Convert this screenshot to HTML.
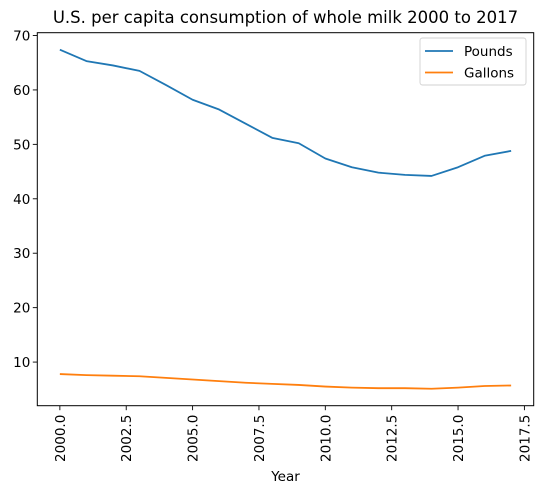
<!DOCTYPE html>
<html><head><meta charset="utf-8"><style>
body{margin:0;background:#fff;}
svg text{font-family:"DejaVu Sans","Liberation Sans",sans-serif;fill:#000;}
</style></head><body>
<svg id="chart" width="543" height="494" viewBox="0 0 543 494"></svg>
<script>
const years=[2000,2001,2002,2003,2004,2005,2006,2007,2008,2009,2010,2011,2012,2013,2014,2015,2016,2017];
const pounds=[67.4,65.3,64.5,63.5,60.9,58.2,56.4,53.8,51.2,50.2,47.4,45.8,44.8,44.4,44.2,45.8,47.9,48.8];
const gallons=[7.8,7.6,7.5,7.4,7.1,6.8,6.5,6.2,6.0,5.8,5.5,5.3,5.2,5.2,5.1,5.3,5.6,5.7];
const xTicks=[2000,2002.5,2005,2007.5,2010,2012.5,2015,2017.5];
const xTickLabels=["2000.0","2002.5","2005.0","2007.5","2010.0","2012.5","2015.0","2017.5"];
const yTicks=[10,20,30,40,50,60,70];

const L=37.3,R=533.7,T=32.7,B=405.7;
const svg=document.getElementById('chart');
const NS='http://www.w3.org/2000/svg';
function mk(tag,attrs,parent){const e=document.createElementNS(NS,tag);for(const k in attrs)e.setAttribute(k,attrs[k]);(parent||svg).appendChild(e);return e;}
const xmin=Math.min(...years),xmax=Math.max(...years),xr=xmax-xmin;
const x0=xmin-0.05*xr,x1=xmax+0.05*xr;
const all=pounds.concat(gallons);
const ymn=Math.min(...all),ymx=Math.max(...all),yr=ymx-ymn;
const y0=ymn-0.05*yr,y1=ymx+0.05*yr;
const sx=v=>L+(v-x0)/(x1-x0)*(R-L);
const sy=v=>B-(v-y0)/(y1-y0)*(B-T);

let t=mk('text',{x:(L+R)/2,y:23,'text-anchor':'middle','font-size':'16.5'});
t.textContent='U.S. per capita consumption of whole milk 2000 to 2017';



xTicks.forEach((v,i)=>{
  const g=mk('g',{});
  
  
  mk('line',{x1:sx(v),x2:sx(v),y1:B,y2:B+4.5,stroke:'#000','stroke-width':0.9},g);
  const tx=mk('text',{x:0,y:0,'font-size':'13.5','text-anchor':'end',transform:`translate(${sx(v)+5},${B+9}) rotate(-90)`},g);
  tx.textContent=xTickLabels[i];
});
yTicks.forEach(v=>{
  const g=mk('g',{});
  
  
  mk('line',{x1:L-4.5,x2:L,y1:sy(v),y2:sy(v),stroke:'#000','stroke-width':0.9},g);
  const tx=mk('text',{x:L-7,y:sy(v)+5,'font-size':'13.5','text-anchor':'end'},g);
  tx.textContent=v;
});
t=mk('text',{x:(L+R)/2,y:481,'text-anchor':'middle','font-size':'13.5'});
t.textContent='Year';



function line(vals,color,name){
  const p=mk('polyline',{points:years.map((y,i)=>sx(y)+','+sy(vals[i])).join(' '),fill:'none',stroke:color,'stroke-width':1.8,'stroke-linejoin':'round'});
  
  
}
line(pounds,'#1f77b4','pounds-line');
line(gallons,'#ff7f0e','gallons-line');

const fr=mk('rect',{x:L,y:T,width:R-L,height:B-T,fill:'none',stroke:'#000','stroke-width':1});



const lg=mk('g',{});


mk('rect',{x:420,y:38,width:106,height:47,rx:2.5,fill:'#fff',stroke:'#d0d0d0','stroke-width':0.9},lg);
[['Pounds','#1f77b4'],['Gallons','#ff7f0e']].forEach((e,i)=>{
  const g=mk('g',{},lg);
  
  
  const yy=51+i*21.5;
  mk('line',{x1:425,x2:453,y1:yy,y2:yy,stroke:e[1],'stroke-width':1.8},g);
  const tx=mk('text',{x:464,y:yy+5,'font-size':'13.5'},g);
  tx.textContent=e[0];
});
</script>
</body></html>
